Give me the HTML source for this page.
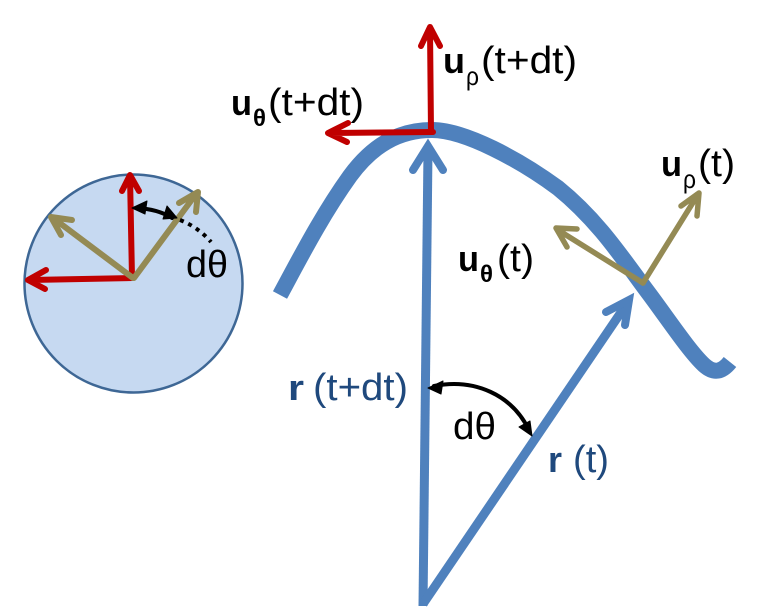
<!DOCTYPE html>
<html><head><meta charset="utf-8"><style>
html,body{margin:0;padding:0;background:#fff}
svg{display:block}
text{font-family:"Liberation Sans",sans-serif}
</style></head><body>
<svg width="764" height="611" viewBox="0 0 764 611" xmlns="http://www.w3.org/2000/svg">
<circle cx="133.5" cy="283.5" r="109" fill="#c6d9f1" stroke="#3e6795" stroke-width="2.5"/>
<g fill="none" stroke-linecap="round" stroke-linejoin="round">
<path d="M132 278L130 176M122 191L130 175L139 191" stroke="#c00000" stroke-width="6"/>
<path d="M133 278L30 280M46 270L28 280L45 289" stroke="#c00000" stroke-width="6"/>
<path d="M134 278L196 194M179 203L198 192L196 212" stroke="#948a54" stroke-width="6"/>
<path d="M133 278L53 218M72 220L51 217L61 235" stroke="#948a54" stroke-width="6"/>
<path d="M136 208Q158 209 172 218" stroke="#000" stroke-width="4"/>
<path d="M180 220Q198 227 211 242" stroke="#000" stroke-width="4" stroke-dasharray="4 5" stroke-linecap="butt"/>
</g>
<path d="M132 208L147 201L145 214Z M177 218L163 219L167 206Z" fill="#000" stroke="#000" stroke-linejoin="round"/>
<path d="M280 295C300 258 322 215 350 176C372 146 398 130 432 130C465 130 520 160 558 188C600 222 625 262 650 295C670 322 690 352 704 365C714 374 722 372 730 362" fill="none" stroke="#4f81bd" stroke-width="16"/>
<g fill="none" stroke="#4f81bd" stroke-width="9" stroke-linejoin="miter">
<path d="M428 150L423 606"/>
<path d="M628 302L423 604"/>
</g>
<g fill="none" stroke="#4f81bd" stroke-width="8" stroke-linecap="round" stroke-linejoin="miter">
<path d="M413 170L428 146L443 170"/>
<path d="M606 312L629 300L625 325"/>
</g>
<g fill="none" stroke-linecap="round" stroke-linejoin="round">
<path d="M431 132L430 29M421 46L430 27L440 46" stroke="#c00000" stroke-width="6"/>
<path d="M433 132L331 133M348 123L328 133L347 142" stroke="#c00000" stroke-width="6"/>
<path d="M643 283L697 196M681 206L699 193L697 216" stroke="#948a54" stroke-width="5.5"/>
<path d="M643 283L558 230M577 229L556 228L567 247" stroke="#948a54" stroke-width="5.5"/>
<path d="M434 386C475 378 512 395 529 430" stroke="#000" stroke-width="4"/>
</g>
<path d="M428 388L443 381L441 394Z M532 436L519 427L530 421Z" fill="#000" stroke="#000" stroke-linejoin="round"/>
<g fill="#000">
<text x="186" y="277" font-size="38" textLength="42" lengthAdjust="spacingAndGlyphs">dθ</text>
<text x="453" y="439" font-size="38" textLength="43" lengthAdjust="spacingAndGlyphs">dθ</text>
<text x="443" y="73" font-size="36" font-weight="bold" textLength="22" lengthAdjust="spacingAndGlyphs">u</text>
<text x="466" y="85" font-size="26" textLength="13" lengthAdjust="spacingAndGlyphs">ρ</text>
<text x="481" y="73" font-size="38" textLength="96" lengthAdjust="spacingAndGlyphs">(t+dt)</text>
<text x="231" y="115" font-size="36" font-weight="bold" textLength="21" lengthAdjust="spacingAndGlyphs">u</text>
<text x="253" y="126" font-size="24" font-weight="bold" textLength="13" lengthAdjust="spacingAndGlyphs">θ</text>
<text x="268" y="115" font-size="38" textLength="96" lengthAdjust="spacingAndGlyphs">(t+dt)</text>
<text x="661" y="176" font-size="36" font-weight="bold" textLength="21" lengthAdjust="spacingAndGlyphs">u</text>
<text x="683" y="188" font-size="26" textLength="13" lengthAdjust="spacingAndGlyphs">ρ</text>
<text x="698" y="176" font-size="38" textLength="37" lengthAdjust="spacingAndGlyphs">(t)</text>
<text x="458" y="271" font-size="36" font-weight="bold" textLength="21" lengthAdjust="spacingAndGlyphs">u</text>
<text x="480" y="282" font-size="24" font-weight="bold" textLength="13" lengthAdjust="spacingAndGlyphs">θ</text>
<text x="497" y="271" font-size="38" textLength="37" lengthAdjust="spacingAndGlyphs">(t)</text>
</g>
<g fill="#1f497d">
<text x="288" y="400" font-size="36" font-weight="bold" textLength="16" lengthAdjust="spacingAndGlyphs">r</text>
<text x="313" y="400" font-size="38" textLength="95" lengthAdjust="spacingAndGlyphs">(t+dt)</text>
<text x="548" y="472" font-size="36" font-weight="bold" textLength="14" lengthAdjust="spacingAndGlyphs">r</text>
<text x="573" y="472" font-size="38" textLength="36" lengthAdjust="spacingAndGlyphs">(t)</text>
</g>
</svg>
</body></html>
